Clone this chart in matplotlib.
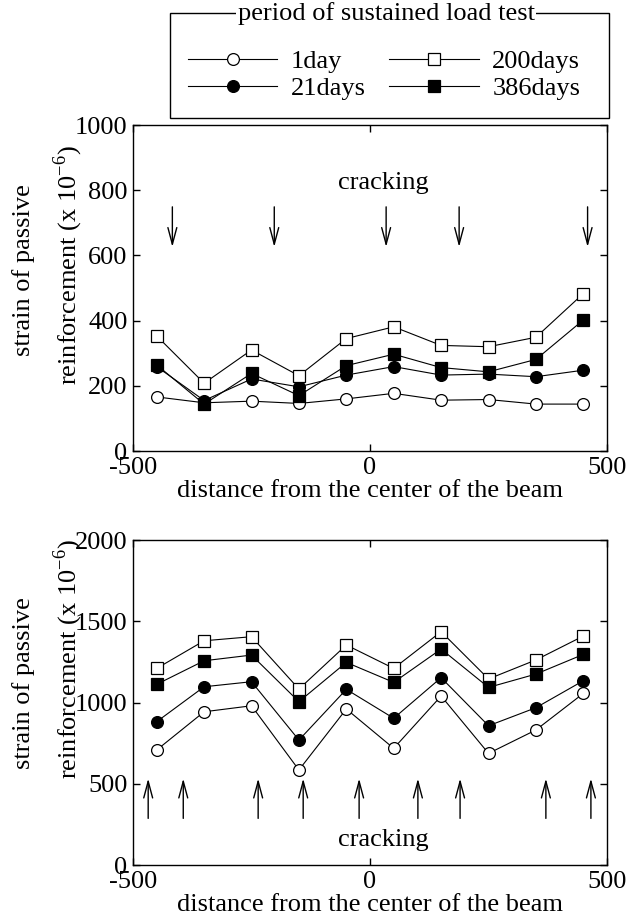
import matplotlib
matplotlib.use("Agg")
import matplotlib.pyplot as plt
from matplotlib.patches import Rectangle

plt.rcParams["font.family"] = ["Liberation Serif", "DejaVu Serif"]
plt.rcParams["mathtext.fontset"] = "custom"
plt.rcParams["mathtext.rm"] = "Liberation Serif"
plt.rcParams["axes.unicode_minus"] = False

# ---- data -------------------------------------------------------------
distance = [-450, -350, -250, -150, -50, 50, 150, 250, 350, 450]

top_1day = [166, 148, 153, 146, 160, 177, 156, 158, 144, 144]
top_21days = [259, 155, 221, 197, 233, 259, 233, 236, 228, 248]
top_200days = [353, 208, 310, 231, 345, 381, 324, 320, 349, 483]
top_386days = [264, 144, 238, 170, 262, 297, 256, 243, 281, 402]

bot_1day = [708, 943, 980, 585, 960, 718, 1040, 687, 831, 1056]
bot_21days = [882, 1097, 1128, 769, 1081, 903, 1153, 857, 968, 1134]
bot_200days = [1210, 1380, 1405, 1083, 1354, 1210, 1436, 1145, 1262, 1409]
bot_386days = [1112, 1257, 1292, 1005, 1247, 1124, 1329, 1093, 1175, 1296]

labels = ["1day", "21days", "200days", "386days"]

top_cracks = [-417, -202, 34, 188, 459]
bot_cracks = [-468, -394, -236, -141, -23, 101, 190, 371, 466]

FS = 19
STYLES = [
    dict(marker="o", mfc="white"),
    dict(marker="o", mfc="black"),
    dict(marker="s", mfc="white"),
    dict(marker="s", mfc="black"),
]

fig = plt.figure(figsize=(6.31, 9.22), dpi=100)
ax1 = fig.add_axes([0.2108, 0.5108, 0.7512, 0.3536])
ax2 = fig.add_axes([0.2108, 0.0618, 0.7512, 0.3525])


def draw(ax, series, ymax, ystep):
    handles = []
    for ys, st in zip(series, STYLES):
        h, = ax.plot(distance, ys, color="black", lw=0.8, ms=8.5,
                     mec="black", mew=0.9, **st)
        handles.append(h)
    ax.set_xlim(-500, 500)
    ax.set_ylim(0, ymax)
    ax.set_xticks([-500, 0, 500])
    ax.set_yticks(range(0, ymax + 1, ystep))
    ax.tick_params(direction="in", top=True, right=True, length=5,
                   width=1, labelsize=FS, pad=4)
    for s in ax.spines.values():
        s.set_linewidth(1)
    ax.set_xlabel("distance from the center of the beam", fontsize=FS,
                  labelpad=1)
    return handles


handles = draw(ax1, [top_1day, top_21days, top_200days, top_386days], 1000, 200)
draw(ax2, [bot_1day, bot_21days, bot_200days, bot_386days], 2000, 500)

arrow = dict(arrowstyle="->,head_length=1.2,head_width=0.32",
             color="black", lw=1, shrinkA=0, shrinkB=0, mutation_scale=10)
for x in top_cracks:
    ax1.annotate("", xy=(x, 626), xytext=(x, 749), arrowprops=arrow)
ax1.text(27, 821, "cracking", fontsize=FS, ha="center", va="center")

for x in bot_cracks:
    ax2.annotate("", xy=(x, 532), xytext=(x, 287), arrowprops=arrow)
ax2.text(27, 154, "cracking", fontsize=FS, ha="center", va="center")

# y labels (two lines)
for yc1, yc2 in [(0.707, 0.712), (0.259, 0.285)]:
    fig.text(0.038, yc1, "strain of passive", rotation=90, fontsize=FS,
             ha="center", va="center")
    fig.text(0.108, yc2, r"reinforcement (x 10$^{-6}$)", rotation=90,
             fontsize=FS, ha="center", va="center")

# legend
fig.legend(handles, labels, ncol=2, frameon=False, fontsize=FS,
           loc="center", bbox_to_anchor=(384 / 631, 1 - 75 / 922),
           handlelength=3.4, handletextpad=0.5, columnspacing=0.9,
           labelspacing=0.12, borderpad=0, numpoints=1)
fig.add_artist(Rectangle((170 / 631, 1 - 118 / 922), 439 / 631, 105 / 922,
                         transform=fig.transFigure, fill=False,
                         edgecolor="black", lw=1))
fig.text(386 / 631, 1 - 14 / 922, "period of sustained load test",
         fontsize=FS, ha="center", va="center",
         bbox=dict(facecolor="white", edgecolor="none", pad=1))

fig.savefig("out.png", dpi=100, facecolor="white")
